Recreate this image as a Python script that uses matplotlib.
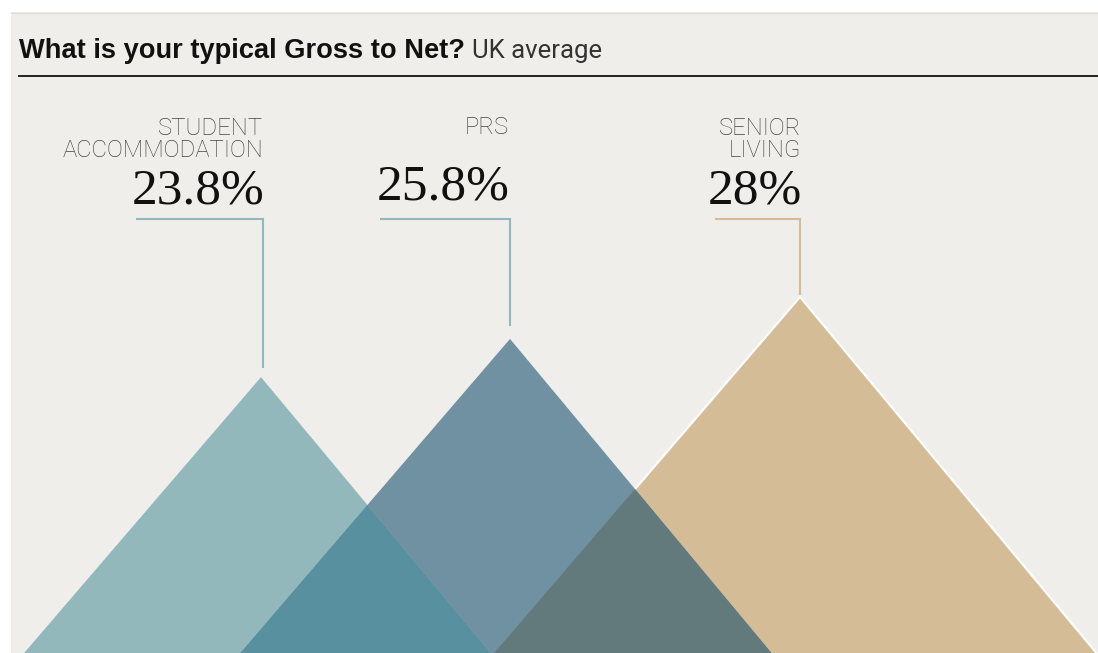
import matplotlib
matplotlib.use("Agg")
import matplotlib.pyplot as plt
from matplotlib.patches import Polygon, Rectangle

# ---- data ----
categories = ["Student accommodation", "PRS", "Senior living"]
label_lines = [["STUDENT", "ACCOMMODATION"], ["PRS"], ["SENIOR", "LIVING"]]
values = [23.8, 25.8, 28.0]
value_labels = ["23.8%", "25.8%", "28%"]
title_bold = "What is your typical Gross to Net?"
title_light = "UK average"

# ---- style / layout ----
W, H = 1098, 653
BG = "#f0eeea"
fill_colors = ["#93b8bc", "#6f91a2", "#d3bc96"]
leader_colors = ["#93b8bc", "#93b8bc", "#d3bc96"]
overlap_sp = "#5890a0"   # student & PRS
overlap_ps = "#627a7c"   # PRS & senior
apex_x = [261, 510, 800]           # horizontal positions (px)
left_k, right_k = 16.4, 15.9       # px of half-width per percentage point
base_px, px_per_pt = 831.7, 19.1   # y pixel of 0% and scale

def v2px(v):
    return base_px - px_per_pt * v

def px2v(p):
    return (base_px - p) / px_per_pt

fig = plt.figure(figsize=(W / 100, H / 100), dpi=100)
fig.patch.set_facecolor("white")

# pixel overlay axes (for background, text, rules)
axp = fig.add_axes([0, 0, 1, 1])
axp.set_xlim(0, W)
axp.set_ylim(H, 0)
axp.axis("off")
axp.add_patch(Rectangle((11, 12), W - 11, H - 12, facecolor=BG, edgecolor="none", zorder=0))
axp.plot([11, W], [12.5, 12.5], color="#dedbd6", lw=1.0, zorder=1)

# data axes for triangles: x in px, y in percentage points
ax = fig.add_axes([0, 0, 1, 1])
ax.set_xlim(0, W)
ax.set_ylim(px2v(H), px2v(0))
ax.axis("off")
ax.patch.set_alpha(0)


def tri(i, **kw):
    v = values[i]
    x = apex_x[i]
    pts = [(x - left_k * v, 0), (x, v), (x + right_k * v, 0)]
    return Polygon(pts, closed=True, **kw)

# senior (with white outer edge), then PRS, then student
senior = tri(2, facecolor=fill_colors[2], edgecolor="white", lw=1.6, zorder=2)
ax.add_patch(senior)
prs = tri(1, facecolor=fill_colors[1], edgecolor="none", zorder=3)
ax.add_patch(prs)
student = tri(0, facecolor=fill_colors[0], edgecolor="none", zorder=3)
ax.add_patch(student)

# overlaps
ov1 = tri(1, facecolor=overlap_sp, edgecolor="none", zorder=4)
ax.add_patch(ov1)
ov1.set_clip_path(tri(0, transform=ax.transData))
ov2 = tri(1, facecolor=overlap_ps, edgecolor="none", zorder=4)
ax.add_patch(ov2)
ov2.set_clip_path(tri(2, transform=ax.transData))

# leaders
leader_y_px = 219
leader_left = [137, 381, 716]
leader_gap_px = [10, 14, 3]
for i, v in enumerate(values):
    x = apex_x[i] + 2 if i == 0 else apex_x[i]
    ytop = px2v(leader_y_px)
    ybot = px2v(v2px(v) - leader_gap_px[i])
    ax.plot([leader_left[i], x, x], [ytop, ytop, ybot], color=leader_colors[i],
            lw=1.5, solid_joinstyle="miter", zorder=5)

# labels
label_font = dict(family=["Roboto", "DejaVu Sans"], fontweight="light", color="#444444", fontsize=17.2)
num_font = dict(family=["Liberation Serif", "DejaVu Serif"], color="#111111", fontsize=37)
label_last_base = [157, 134, 157]
num_base = [203, 199, 203]
right_edge = [263, 509, 801]
for i in range(3):
    lines = label_lines[i]
    n = len(lines)
    for j, line in enumerate(lines):
        yb = label_last_base[i] - (n - 1 - j) * 22
        axp.text(right_edge[i], yb, line, ha="right", va="baseline", **label_font)
    axp.text(right_edge[i] + 1, num_base[i], value_labels[i], ha="right", va="baseline", **num_font)

# title
axp.text(19, 58, title_bold, ha="left", va="baseline", fontsize=19.6,
         fontweight="bold", family=["Liberation Sans", "DejaVu Sans"], color="#111111")
axp.text(472, 58, title_light, ha="left", va="baseline", fontsize=18.5,
         family=["Roboto", "DejaVu Sans"], fontweight="normal", color="#333333")
axp.plot([19, W], [76, 76], color="#222222", lw=1.4, zorder=1)

fig.savefig("out.png", dpi=100, facecolor=fig.get_facecolor())
